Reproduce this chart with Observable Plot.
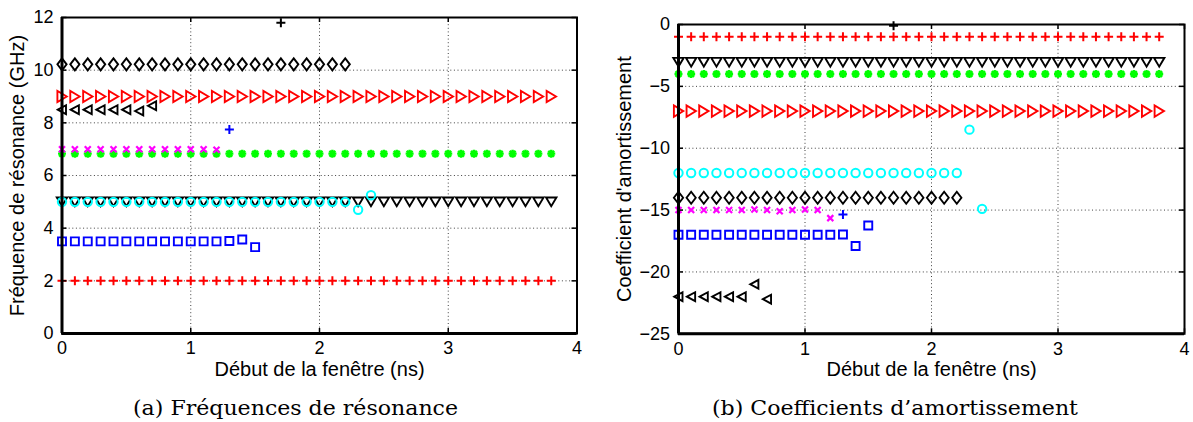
<!DOCTYPE html>
<html><head><meta charset="utf-8">
<script src="https://cdn.jsdelivr.net/npm/d3@7"></script>
<script src="https://cdn.jsdelivr.net/npm/@observablehq/plot@0.6"></script>
<style>
body{margin:0;background:#fff;}
#root{position:relative;width:1193px;height:422px;overflow:hidden;background:#fff;}
#root > svg{position:absolute;top:0;}
</style></head><body><div id="root"></div>
<script>
// ---------- DATA ----------
const debut = [0,0.1,0.2,0.3,0.4,0.5,0.6,0.7,0.8,0.9,1,1.1,1.2,1.3,1.4,1.5,1.6,1.7,1.8,1.9,2,2.1,2.2,2.3,2.4,2.5,2.6,2.7,2.8,2.9,3,3.1,3.2,3.3,3.4,3.5,3.6,3.7,3.8];
const xTicks = [0,1,2,3,4];

// (a) Fréquences de résonance (GHz)
const freqTicks = [0,2,4,6,8,10,12];
const freqRedPlus = [2,2,2,2,2,2,2,2,2,2,2,2,2,2,2,2,2,2,2,2,2,2,2,2,2,2,2,2,2,2,2,2,2,2,2,2,2,2,2];
const freqBlueSquare = [3.5,3.5,3.5,3.5,3.5,3.5,3.5,3.5,3.5,3.5,3.5,3.5,3.5,3.51,3.57,3.28];
const freqBlackTriDown = [5,5,5,5,5,5,5,5,5,5,5,5,5,5,5,5,5,5,5,5,5,5,5,5,5,5,5,5,5,5,5,5,5,5,5,5,5,5,5];
const freqCyanCircle = [5,5,5,5,5,5,5,5,5,5,5,5,5,5,5,5,5,5,5,5,5,5,5,4.7,5.25];
const freqGreenStar = [6.83,6.83,6.83,6.83,6.83,6.83,6.83,6.83,6.83,6.83,6.83,6.83,6.83,6.83,6.83,6.83,6.83,6.83,6.83,6.83,6.83,6.83,6.83,6.83,6.83,6.83,6.83,6.83,6.83,6.83,6.83,6.83,6.83,6.83,6.83,6.83,6.83,6.83,6.83];
const freqMagentaX = [7,7,7,7,7,7,7,7,7,7,7,7,6.98];
const freqBluePlusX = [1.3];
const freqBluePlus = [7.75];
const freqBlackTriLeft = [8.5,8.5,8.5,8.5,8.5,8.5,8.45,8.65];
const freqRedTriRight = [9,9,9,9,9,9,9,9,9,9,9,9,9,9,9,9,9,9,9,9,9,9,9,9,9,9,9,9,9,9,9,9,9,9,9,9,9,9,9];
const freqBlackDiamond = [10.22,10.22,10.22,10.22,10.22,10.22,10.22,10.22,10.22,10.22,10.22,10.22,10.22,10.22,10.22,10.22,10.22,10.22,10.22,10.22,10.22,10.22,10.22];
const freqBlackPlusX = [1.7];
const freqBlackPlus = [11.8];

// (b) Coefficients d'amortissement
const dampTicks = [-25,-20,-15,-10,-5,0];
const dampRedPlus = [-1,-1,-1,-1,-1,-1,-1,-1,-1,-1,-1,-1,-1,-1,-1,-1,-1,-1,-1,-1,-1,-1,-1,-1,-1,-1,-1,-1,-1,-1,-1,-1,-1,-1,-1,-1,-1,-1,-1];
const dampBlackPlusX = [1.7];
const dampBlackPlus = [-0.1];
const dampBlackTriDown = [-3.05,-3.05,-3.05,-3.05,-3.05,-3.05,-3.05,-3.05,-3.05,-3.05,-3.05,-3.05,-3.05,-3.05,-3.05,-3.05,-3.05,-3.05,-3.05,-3.05,-3.05,-3.05,-3.05,-3.05,-3.05,-3.05,-3.05,-3.05,-3.05,-3.05,-3.05,-3.05,-3.05,-3.05,-3.05,-3.05,-3.05,-3.05,-3.05];
const dampGreenStar = [-4,-4,-4,-4,-4,-4,-4,-4,-4,-4,-4,-4,-4,-4,-4,-4,-4,-4,-4,-4,-4,-4,-4,-4,-4,-4,-4,-4,-4,-4,-4,-4,-4,-4,-4,-4,-4,-4,-4];
const dampRedTriRight = [-7,-7,-7,-7,-7,-7,-7,-7,-7,-7,-7,-7,-7,-7,-7,-7,-7,-7,-7,-7,-7,-7,-7,-7,-7,-7,-7,-7,-7,-7,-7,-7,-7,-7,-7,-7,-7,-7,-7];
const dampCyanCircle = [-12,-12,-12,-12,-12,-12,-12,-12,-12,-12,-12,-12,-12,-12,-12,-12,-12,-12,-12,-12,-12,-12,-12,-8.5,-14.9];
const dampBlackDiamond = [-14,-14,-14,-14,-14,-14,-14,-14,-14,-14,-14,-14,-14,-14,-14,-14,-14,-14,-14,-14,-14,-14,-14];
const dampMagentaX = [-15,-15,-15,-15,-15,-15,-14.95,-15,-15.1,-15,-14.95,-15,-15.65];
const dampBluePlusX = [1.3];
const dampBluePlus = [-15.35];
const dampBlueSquare = [-17,-17,-17,-17,-17,-17,-17,-17,-17,-17,-17,-17,-17,-16.97,-17.9,-16.25];
const dampBlackTriLeft = [-22,-22,-22,-22,-22,-22,-21,-22.2];

const xLabel = "Début de la fenêtre (ns)";
const freqLabel = "Fréquence de résonance (GHz)";
const dampLabel = "Coefficient d'amortissement";
const capA = "(a) Fréquences de résonance";
const capB = "(b) Coefficients d’amortissement";

// ---------- SYMBOLS ----------
const poly = (p) => ({draw(c){ c.moveTo(p[0][0],p[0][1]); for (let i=1;i<p.length;i++) c.lineTo(p[i][0],p[i][1]); c.closePath(); }});
const symDiamond = poly([[0,-6],[4.6,0],[0,6],[-4.6,0]]);
const symTriRight = poly([[4.8,0],[-4.6,-5.6],[-4.6,5.6]]);
const symTriDown = poly([[0,4.4],[-5.2,-4.4],[5.2,-4.4]]);
const symTriLeft = poly([[-4.2,0],[4,-4.4],[4,4.4]]);
const symSquare = poly([[-4,-4],[4,-4],[4,4],[-4,4]]);
const symPlus = {draw(c){ c.moveTo(-4.5,0); c.lineTo(4.5,0); c.moveTo(0,-4.5); c.lineTo(0,4.5); }};
const symTimes = {draw(c){ c.moveTo(-3,-3); c.lineTo(3,3); c.moveTo(-3,3); c.lineTo(3,-3); }};
const symStar = {draw(c){ c.moveTo(-4,0); c.lineTo(4,0); c.moveTo(0,-4); c.lineTo(0,4);
  c.moveTo(-2.9,-2.9); c.lineTo(2.9,2.9); c.moveTo(-2.9,2.9); c.lineTo(2.9,-2.9); }};

const pts = (ys, xs = debut) => ys.map((y, i) => ({x: xs[i], y}));
const dot = (ys, xs, symbol, stroke, sw = 1.9) =>
  Plot.dot(pts(ys, xs), {x: "x", y: "y", symbol, stroke, fill: "none", strokeWidth: sw, r: 4.2});

function panel({width, height, ml, mr, mt, mb, yDomain, yTicks, yLabel, labelDx, dots}) {
  const innerH = height - mt - mb, innerW = width - ml - mr;
  const yGrid = yTicks.slice(1, -1);
  return Plot.plot({
    width, height, marginLeft: ml, marginRight: mr, marginTop: mt, marginBottom: mb,
    style: {fontFamily: "'Liberation Sans', Arial, sans-serif", fontSize: "18px", color: "#000", background: "transparent", overflow: "visible"},
    x: {domain: [0, 4]},
    y: {domain: yDomain},
    marks: [
      Plot.gridX([1,2,3], {stroke: "#000", strokeOpacity: 0.75, strokeDasharray: "1,2.6"}),
      Plot.gridY(yGrid, {stroke: "#000", strokeOpacity: 0.75, strokeDasharray: "1,2.6"}),
      ...dots,
      Plot.tickX(xTicks, {x: d => d, insetTop: innerH - 5, stroke: "#000", strokeWidth: 1.5}),
      Plot.tickX(xTicks, {x: d => d, insetBottom: innerH - 5, stroke: "#000", strokeWidth: 1.5}),
      Plot.tickY(yTicks, {y: d => d, insetRight: innerW - 5, stroke: "#000", strokeWidth: 1.5}),
      Plot.tickY(yTicks, {y: d => d, insetLeft: innerW - 5, stroke: "#000", strokeWidth: 1.5}),
      Plot.frame({stroke: "#000", strokeWidth: 2}),
      Plot.ruleX([0], {stroke: "#000", strokeWidth: 3}),
      Plot.ruleY([yDomain[0]], {stroke: "#000", strokeWidth: 3}),
      Plot.axisX(xTicks, {tickSize: 0, tickPadding: 8, label: null, fontSize: 18, tickFormat: d3.format("d")}),
      Plot.axisY(yTicks, {tickSize: 0, tickPadding: 8.5, label: null, fontSize: 18}),
      Plot.text([xLabel], {frameAnchor: "bottom", dy: 28, lineAnchor: "top", textAnchor: "middle", fontSize: 20}),
      Plot.text([yLabel], {frameAnchor: "left", rotate: -90, dx: labelDx, textAnchor: "middle", lineAnchor: "middle", fontSize: 20})
    ]
  });
}

const root = document.getElementById("root");

const left = panel({
  width: 600, height: 390, ml: 61.5, mr: 23.5, mt: 17, mb: 57,
  yDomain: [0, 12], yTicks: freqTicks, yLabel: freqLabel, labelDx: -44.5,
  dots: [
    dot(freqRedPlus, debut, symPlus, "#ff0000", 2),
    dot(freqBlueSquare, debut, symSquare, "#0000ff"),
    dot(freqBlackTriDown, debut, symTriDown, "#000000"),
    dot(freqCyanCircle, debut, "circle", "#00ffff", 2),
    dot(freqGreenStar, debut, symStar, "#00ff00", 2.4),
    dot(freqMagentaX, debut, symTimes, "#ff00ff", 2.2),
    dot(freqBluePlus, freqBluePlusX, symPlus, "#0000ff", 2),
    dot(freqBlackTriLeft, debut, symTriLeft, "#000000"),
    dot(freqRedTriRight, debut, symTriRight, "#ff0000"),
    dot(freqBlackDiamond, debut, symDiamond, "#000000"),
    dot(freqBlackPlus, freqBlackPlusX, symPlus, "#000000", 2)
  ]
});
left.style.left = "0px";
root.appendChild(left);

const right = panel({
  width: 593, height: 390, ml: 78, mr: 9, mt: 24, mb: 56.7,
  yDomain: [-25, 0], yTicks: dampTicks, yLabel: dampLabel, labelDx: -53.5,
  dots: [
    dot(dampRedPlus, debut, symPlus, "#ff0000", 2),
    dot(dampBlackPlus, dampBlackPlusX, symPlus, "#000000", 2),
    dot(dampBlackTriDown, debut, symTriDown, "#000000"),
    dot(dampGreenStar, debut, symStar, "#00ff00", 2.4),
    dot(dampRedTriRight, debut, symTriRight, "#ff0000"),
    dot(dampCyanCircle, debut, "circle", "#00ffff", 2),
    dot(dampBlackDiamond, debut, symDiamond, "#000000"),
    dot(dampMagentaX, debut, symTimes, "#ff00ff", 2.2),
    dot(dampBluePlus, dampBluePlusX, symPlus, "#0000ff", 2),
    dot(dampBlueSquare, debut, symSquare, "#0000ff"),
    dot(dampBlackTriLeft, debut, symTriLeft, "#000000")
  ]
});
right.style.left = "600px";
root.appendChild(right);

// captions
const cap = d3.select(root).append("svg")
  .attr("width", 1193).attr("height", 422)
  .style("position", "absolute").style("left", "0px").style("top", "0px")
  .style("pointer-events", "none");
[[capA, 133, 325], [capB, 712, 366]].forEach(([t, x, w]) => {
  cap.append("text").attr("x", x).attr("y", 414.5)
    .attr("textLength", w).attr("lengthAdjust", "spacingAndGlyphs")
    .style("font-family", "DejaVu Serif, serif").style("font-size", "20px")
    .style("fill", "#000").text(t);
});
</script>
</body></html>
